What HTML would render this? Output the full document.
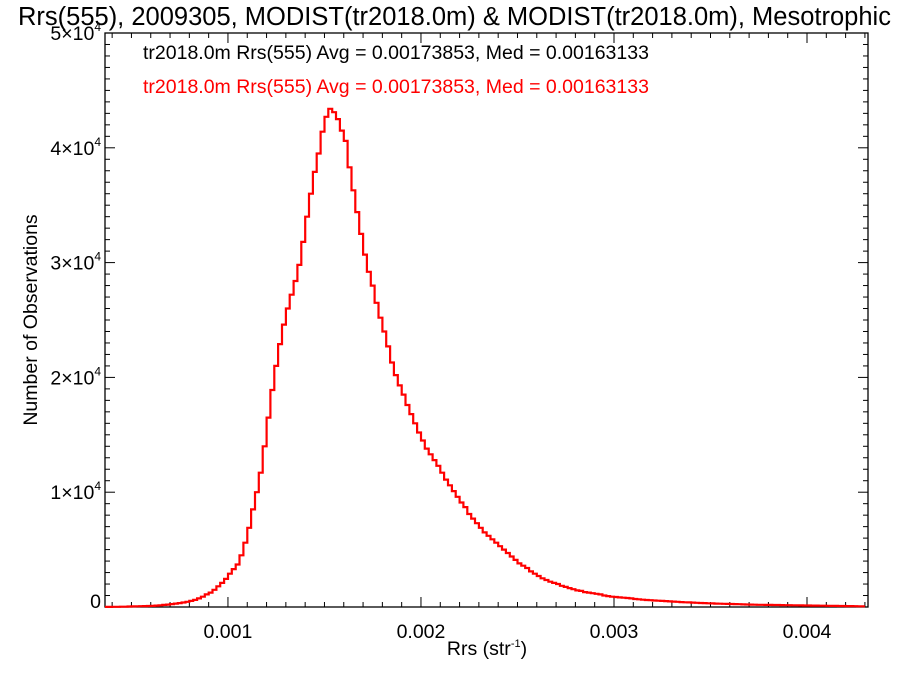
<!DOCTYPE html>
<html><head><meta charset="utf-8"><style>
body{margin:0;background:#fff}
svg{display:block;font-family:"Liberation Sans",sans-serif}
</style></head><body>
<svg id="chart" width="900" height="675">
<text x="18" y="25" font-size="25.5">Rrs(555), 2009305, MODIST(tr2018.0m) &amp; MODIST(tr2018.0m), Mesotrophic</text>
<text x="143" y="59" font-size="19.5" fill="#000">tr2018.0m Rrs(555) Avg = 0.00173853, Med = 0.00163133</text>
<text x="143" y="93" font-size="19.5" fill="#f00">tr2018.0m Rrs(555) Avg = 0.00173853, Med = 0.00163133</text>
<text transform="translate(37,320) rotate(-90)" text-anchor="middle" font-size="19.5">Number of Observations</text>
<text x="487" y="655" text-anchor="middle" font-size="19.5">Rrs (str<tspan font-size="11" dy="-8">-1</tspan><tspan dy="8">)</tspan></text>
<g id="axes"></g>
<g id="series"></g>
</svg>
<script>
const binStart = 0.00036;
const binWidth = 0.00002;
const counts = [10,10,20,20,30,30,40,50,60,70,80,90,100,120,
150,180,210,250,300,340,390,450,530,620,750,900,1100,1250,1500,1800,2100,2450,2900,3300,3700,4500,5600,6900,8500,10000,
11700,14000,16500,18900,21000,22900,24600,26000,27200,28400,29800,31800,34000,36000,37900,39500,41400,42700,43400,43100,
42500,41500,40600,38300,36300,34400,32500,30700,29200,28000,26500,25200,24000,22700,21300,20200,19300,18500,17600,16800,
16000,15200,14500,13800,13300,12800,12300,11700,11100,10600,10100,9600,9100,8700,8100,7700,7300,6900,6500,6200,
5900,5600,5300,5000,4700,4400,4100,3800,3600,3400,3100,2900,2700,2500,2350,2200,2100,2000,1850,1750,
1650,1550,1450,1400,1300,1250,1200,1150,1100,1000,950,900,870,840,810,780,750,700,670,640,
610,590,570,550,530,510,490,470,450,430,410,400,380,370,350,340,320,310,300,290,
280,270,260,250,240,230,220,210,200,195,190,185,180,175,170,165,160,155,150,145,
140,135,130,125,120,115,110,105,100,95,90,85,80,75,70,65,60];
const xTickValues = [0.001,0.002,0.003,0.004];
const xTickLabels = ["0.001","0.002","0.003","0.004"];
const yTickValues = [0,10000,20000,30000,40000,50000];
const yTickMant = ["0","1","2","3","4","5"];

const L=105,R=868,T=33,B=607;
const xMin=0.000363,xMax=0.004316,yMin=0,yMax=50000;
const xs=v=>L+(v-xMin)/(xMax-xMin)*(R-L);
const ys=v=>B-(v-yMin)/(yMax-yMin)*(B-T);
const NS="http://www.w3.org/2000/svg";
const axes=document.getElementById('axes');
function mk(tag,attrs,parent){const e=document.createElementNS(NS,tag);for(const k in attrs)e.setAttribute(k,attrs[k]);parent.appendChild(e);return e;}

const frame=mk('rect',{x:L,y:T,width:R-L,height:B-T,fill:'none',stroke:'#000','stroke-width':1.3},axes);



for(let k=4;k<=43;k++){const v=k*0.0001;const x=xs(v);if(x<L||x>R)continue;
 const major=k%10===0;const len=major?10:5;
 const t1=mk('line',{x1:x,x2:x,y1:B,y2:B-len,stroke:'#000'},axes);
 
 
 const t2=mk('line',{x1:x,x2:x,y1:T,y2:T+len,stroke:'#000'},axes);
 
 }
xTickValues.forEach((v,i)=>{const t=mk('text',{x:xs(v),y:B+31,'text-anchor':'middle','font-size':19.5},axes);t.textContent=xTickLabels[i];
 
 });
for(let k=0;k<=50;k++){const v=k*1000;const y=ys(v);const major=k%10===0;const len=major?10:5;
 const t1=mk('line',{x1:L,x2:L+len,y1:y,y2:y,stroke:'#000'},axes);
 
 
 const t2=mk('line',{x1:R,x2:R-len,y1:y,y2:y,stroke:'#000'},axes);
 
 }
yTickValues.forEach((v,i)=>{const t=mk('text',{x:L-4,y:ys(v)+(v===0?1:7),'text-anchor':'end','font-size':19.5},axes);
 if(v===0){t.textContent='0';}else{t.innerHTML=yTickMant[i]+'×10<tspan font-size="12" dy="-9">4</tspan>';}
 
 });

let d='';
counts.forEach((c,i)=>{let x0=xs(binStart+i*binWidth),x1=xs(binStart+(i+1)*binWidth);
 x0=Math.max(L,Math.min(R,x0));x1=Math.max(L,Math.min(R,x1));const y=ys(c);
 d+=(i===0?'M':'L')+x0.toFixed(1)+','+y.toFixed(1)+'L'+x1.toFixed(1)+','+y.toFixed(1);});
const p=mk('path',{d:d,fill:'none',stroke:'#f00','stroke-width':2.2},document.getElementById('series'));


</script>
</body></html>
